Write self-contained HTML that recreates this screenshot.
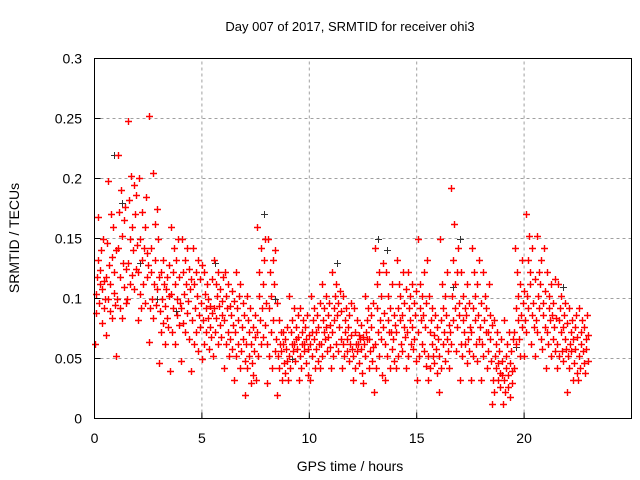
<!DOCTYPE html>
<html><head><meta charset="utf-8"><style>
html,body{margin:0;padding:0;background:#fff;}
svg{display:block;font-family:"Liberation Sans",sans-serif;}
</style></head><body>
<svg id="chart" width="640" height="480" viewBox="0 0 640 480">
<text x="350" y="31" font-size="13" text-anchor="middle">Day 007 of 2017, SRMTID for receiver ohi3</text>
<text x="350" y="471" font-size="14" text-anchor="middle">GPS time / hours</text>
<text x="19" y="238" font-size="14" text-anchor="middle" transform="rotate(-90 19 238)">SRMTID / TECUs</text>
<g id="grid"></g>
<g id="ticks"></g>
<g id="black"></g>
<g id="red"></g>
<rect x="94.5" y="58.5" width="537" height="360" fill="none" stroke="#000" stroke-width="1"/>
</svg>
<script>
const xTicks=[0,5,10,15,20];
const yTicks=[0,0.05,0.1,0.15,0.2,0.25,0.3];
const yTickLabels=["0","0.05","0.1","0.15","0.2","0.25","0.3"];
const binHours=0.5;
// values in thousandths of a TECU, 16 per half-hour bin
const binValues=[
[62,88,104,118,132,168,96,112,124,140,80,108,150,92,115,100],
[70,118,146,198,100,128,90,112,170,84,135,160,105,122,95,140],
[52,100,142,220,172,118,92,190,84,152,130,165,110,176,96,125],
[100,248,130,182,150,112,202,120,160,140,195,108,170,125,186,145],
[82,122,200,104,150,92,132,172,112,142,160,96,185,118,138,128],
[64,252,92,142,122,100,205,84,112,162,132,95,175,108,150,118],
[46,90,122,72,100,132,80,112,62,94,108,84,118,76,102,128],
[40,104,160,72,122,92,142,112,62,132,86,100,150,78,118,96],
[48,92,150,122,80,104,132,72,112,142,88,98,125,66,108,116],
[40,82,142,62,112,92,122,72,102,132,56,86,116,76,96,128],
[50,82,122,62,104,92,72,112,84,100,58,76,94,68,88,116],
[52,92,132,72,112,84,102,122,62,94,78,108,68,98,86,118],
[42,82,122,62,102,92,72,112,52,94,66,86,106,58,78,98],
[32,72,122,52,92,82,62,102,42,112,56,76,96,66,86,48],
[20,62,102,42,82,72,52,92,30,62,46,76,36,56,86,68],
[32,72,160,52,102,122,82,142,62,92,112,68,132,78,150,96],
[30,62,150,52,92,122,72,102,42,132,82,112,56,140,66,96],
[20,52,82,42,62,72,56,32,62,72,46,38,66,58,48,76],
[32,52,102,42,72,62,82,56,62,92,48,66,76,58,86,68],
[32,52,92,42,72,62,82,56,62,76,46,66,86,58,36,70],
[32,62,102,52,72,82,66,92,42,72,58,86,48,76,62,96],
[42,62,112,52,82,72,92,66,102,76,56,86,68,96,60,78],
[42,72,122,52,92,82,102,62,112,86,56,96,76,106,66,90],
[42,62,102,52,82,72,92,66,56,76,48,86,62,96,70,58],
[32,52,92,42,72,62,82,56,62,70,46,66,78,58,38,68],
[30,62,102,52,72,82,66,92,42,66,56,86,76,48,96,60],
[22,62,142,42,92,112,72,122,52,82,66,102,36,76,130,88],
[32,62,122,52,82,102,72,92,42,72,58,112,66,86,48,78],
[42,72,132,52,92,112,82,102,62,86,56,122,76,96,68,108],
[42,72,122,52,92,102,82,62,112,76,58,96,66,86,48,106],
[32,72,150,52,92,112,82,102,62,86,56,122,76,96,44,132],
[32,52,102,42,72,82,62,92,52,70,46,86,58,76,38,66],
[22,52,150,42,82,112,62,92,72,102,48,86,66,122,56,78],
[42,72,192,62,102,132,82,162,92,112,56,122,76,142,86,96],
[32,62,122,52,82,102,72,92,62,86,46,112,66,96,56,76],
[32,72,142,52,92,122,82,102,62,112,48,86,66,132,76,96],
[32,62,122,52,82,102,72,92,42,72,56,112,66,86,48,78],
[12,32,82,22,52,62,42,72,32,46,56,26,38,66,48,36],
[12,32,82,22,42,52,62,36,26,72,46,18,56,30,40,66],
[42,72,142,62,92,122,82,102,66,112,52,86,76,132,96,106],
[52,82,170,72,102,132,92,152,112,122,62,142,86,96,76,116],
[52,82,152,72,102,122,92,112,66,132,58,96,86,142,76,106],
[42,72,122,62,92,102,82,112,52,86,66,96,76,116,56,84],
[42,62,112,52,82,92,72,102,56,76,48,86,66,96,58,80],
[22,52,92,42,62,72,56,82,32,66,46,76,58,86,38,68],
[32,52,92,42,62,72,82,56,46,76,38,66,58,86,48,70]
];
const blackTimes=[0.9,1.3,2.1,2.9,3.8,5.6,7.9,8.4,9.2,11.3,13.2,13.6,16.7,17.0,19.6,21.8];
const blackValues=[.22,.18,.13,.1,.09,.13,.17,.1,.05,.13,.15,.14,.11,.15,.06,.11];
const X0=94.5,XW=537,XMAX=25,Y0=418.5,YH=360,YMAX=0.3;
const xs=t=>X0+t/XMAX*XW, ys=v=>Y0-v/YMAX*YH;
const NS="http://www.w3.org/2000/svg";
const grid=document.getElementById('grid'),ticks=document.getElementById('ticks');
function mk(tag,attrs,parent){const e=document.createElementNS(NS,tag);for(const k in attrs)e.setAttribute(k,attrs[k]);parent.appendChild(e);return e;}
xTicks.forEach(t=>{
 const x=xs(t);
 if(t>0){
  const g=mk('line',{x1:x,x2:x,y1:Y0,y2:58.5,stroke:'#a0a0a0','stroke-dasharray':'3,3'},grid);
  
  
 }
 const l=mk('line',{x1:x,x2:x,y1:Y0,y2:Y0-6,stroke:'#000'},ticks);
 
 
 const tx=mk('text',{x:x,y:443,'font-size':14,'text-anchor':'middle'},ticks);
 tx.textContent=t;
 
 
});
yTicks.forEach((v,i)=>{
 const y=ys(v);
 if(v>0&&v<YMAX){
  const g=mk('line',{x1:X0,x2:X0+XW,y1:y,y2:y,stroke:'#a0a0a0','stroke-dasharray':'3,3'},grid);
  
  
 }
 const l=mk('line',{x1:X0,x2:X0+6,y1:y,y2:y,stroke:'#000'},ticks);
 
 
 const tx=mk('text',{x:82,y:y+5,'font-size':14,'text-anchor':'end'},ticks);
 tx.textContent=yTickLabels[i];
 
 
});
function plus(t,v,parent,name,color,w){
 const x=Math.round(xs(t))+0.5,y=Math.round(ys(v))+0.5;
 const p=mk('path',{d:'M'+(x-3.5)+' '+y+'h7M'+x+' '+(y-3.5)+'v7',stroke:color,'stroke-width':w,fill:'none'},parent);
 
 
}
const red=document.getElementById('red'),black=document.getElementById('black');
blackTimes.forEach((t,i)=>plus(t,blackValues[i],black,'black-data-point','#333333',1));
binValues.forEach((vals,b)=>{
 vals.forEach((v,j)=>{
  plus(b*binHours+(j+0.5)*binHours/vals.length,v/1000,red,'data-point','#ff0000',1.4);
 });
});
</script>
</body></html>
